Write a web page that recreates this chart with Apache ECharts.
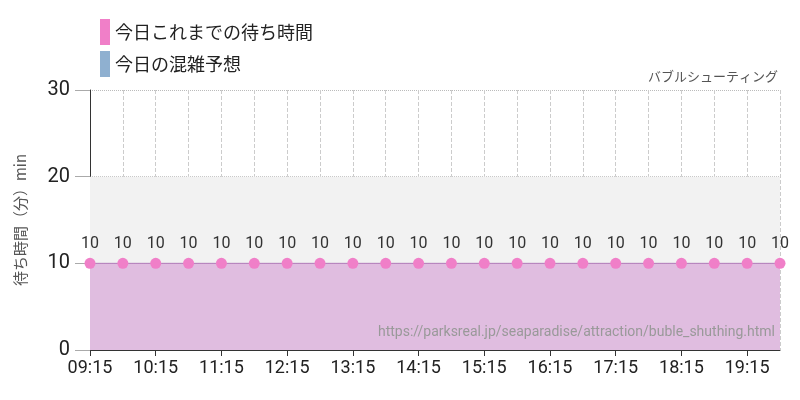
<!DOCTYPE html>
<html><head><meta charset="utf-8">
<script src="https://cdn.jsdelivr.net/npm/echarts@6/dist/echarts.min.js"></script>
<style>html,body{margin:0;padding:0;background:#fff}#c{width:800px;height:400px}</style>
</head><body><div id="c"></div>
<script>
const categories = ['09:15','09:45','10:15','10:45','11:15','11:45','12:15','12:45','13:15','13:45','14:15','14:45','15:15','15:45','16:15','16:45','17:15','17:45','18:15','18:45','19:15','19:45'];
const waitTimes = [10,10,10,10,10,10,10,10,10,10,10,10,10,10,10,10,10,10,10,10,10,10];
const forecast = [];
const yTicks = [0,10,20,30];
const ff = 'Roboto, "Noto Sans CJK JP", sans-serif';
const chart = echarts.init(document.getElementById('c'));
chart.setOption({
  animation:false,
  textStyle:{fontFamily:ff},
  legend:{left:95,top:14,orient:'vertical',itemWidth:10,itemHeight:26,itemGap:6,icon:'rect',
    textStyle:{fontSize:18,color:'#222',fontFamily:'"Noto Sans CJK JP", sans-serif'},
    data:['今日これまでの待ち時間','今日の混雑予想']},
  grid:{left:90,right:20,top:90,bottom:50},
  graphic:[
    {type:'text',right:22,top:70,z:100,style:{text:'バブルシューティング',fontSize:13,fill:'#555',fontFamily:'"Noto Sans CJK JP"'}},
    {type:'text',right:25,top:326,z:100,style:{text:'https://parksreal.jp/seaparadise/attraction/buble_shuthing.html',fontSize:14,fill:'#999',fontFamily:ff}}
  ],
  xAxis:{type:'category',data:categories,boundaryGap:false,
    axisLine:{lineStyle:{color:'#333'}},axisTick:{show:true,interval:1,length:6,lineStyle:{color:'#333'}},
    axisLabel:{interval:1,fontSize:18,color:'#222',margin:10},
    splitLine:{show:true,interval:0,lineStyle:{type:'dashed',color:'#ccc'}}},
  yAxis:{type:'value',min:0,max:30,interval:10,
    name:'待ち時間（分）min',nameLocation:'middle',nameGap:62,nameTextStyle:{fontSize:15,color:'#555',fontFamily:'"Noto Sans CJK JP"'},
    axisLine:{show:true,lineStyle:{color:'#333'}},axisTick:{show:true,length:15,lineStyle:{color:'#aaa'}},
    axisLabel:{fontSize:20,color:'#222',margin:20,formatter:v=>yTicks.includes(v)?String(v):''},
    splitLine:{show:true,lineStyle:{type:'dotted',color:'#bbb'}}},
  series:[
    {name:'今日これまでの待ち時間',type:'line',data:waitTimes,color:'#ff88cc',
     symbol:'circle',symbolSize:11,itemStyle:{color:'#f07fc8'},
     lineStyle:{color:'#b07ab8',width:1},areaStyle:{color:'#e0bde0',opacity:1},
     label:{show:true,position:'top',fontSize:16,color:'#333',distance:6},
     markArea:{silent:true,itemStyle:{color:'#f2f2f2'},data:[[{yAxis:10},{yAxis:20}]]}},
    {name:'今日の混雑予想',type:'line',data:forecast,color:'#8fb0d0'}
  ]
});
</script></body></html>
